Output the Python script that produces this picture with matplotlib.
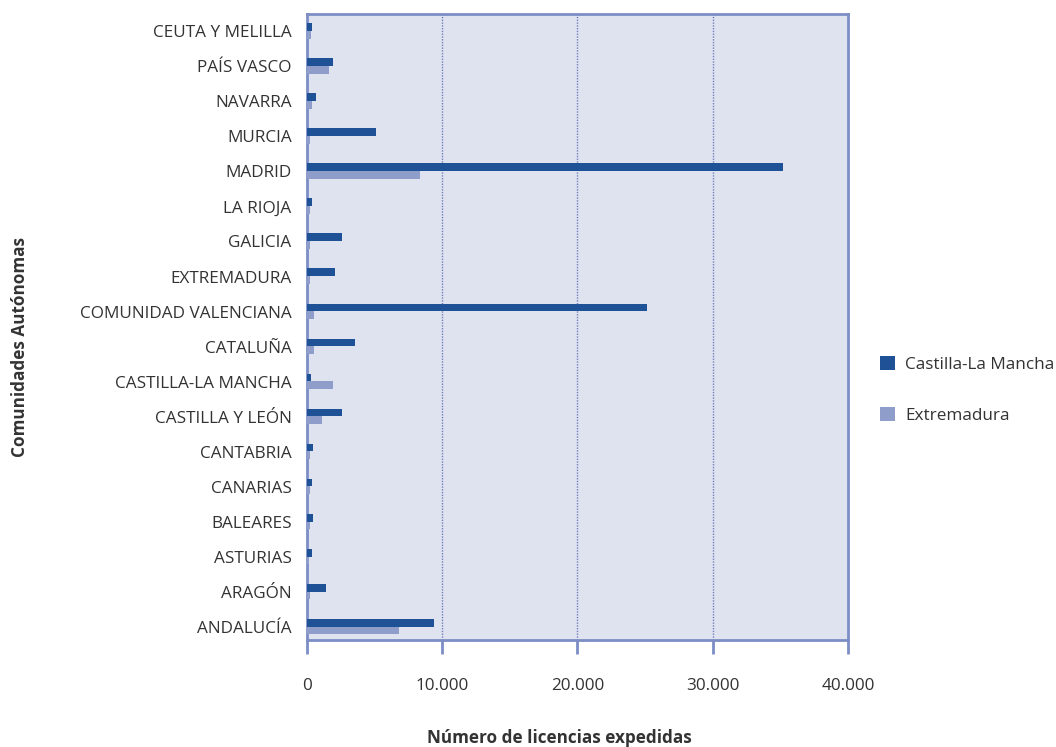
import numpy as np
import matplotlib
matplotlib.use("Agg")
import matplotlib.pyplot as plt
from matplotlib.ticker import FuncFormatter

plt.rcParams['font.family'] = ['Open Sans', 'DejaVu Sans']

comunidades = ['ANDALUCÍA', 'ARAGÓN', 'ASTURIAS', 'BALEARES', 'CANARIAS', 'CANTABRIA',
               'CASTILLA Y LEÓN', 'CASTILLA-LA MANCHA', 'CATALUÑA', 'COMUNIDAD VALENCIANA',
               'EXTREMADURA', 'GALICIA', 'LA RIOJA', 'MADRID', 'MURCIA', 'NAVARRA',
               'PAÍS VASCO', 'CEUTA Y MELILLA']
castilla_la_mancha = [9400, 1430, 350, 450, 350, 450, 2610, 300, 3530, 25150,
                      2070, 2610, 350, 35200, 5080, 690, 1900, 350]
extremadura = [6780, 250, 150, 250, 250, 250, 1130, 1900, 520, 520,
               250, 250, 250, 8380, 250, 350, 1600, 300]

dark = '#1f5196'
light = '#8f9dca'
spine = '#7d8ec6'
txt = '#333333'
fs = 12.3

fig = plt.figure(figsize=(10.56, 7.47), dpi=100)
ax = fig.add_axes([0.2907, 0.1432, 0.5123, 0.8381])
ax.set_facecolor('#dfe3ef')

y = np.arange(len(comunidades))
h = 0.22
ax.barh(y + h / 2 + 0.01, castilla_la_mancha, height=h, color=dark, label='Castilla-La Mancha', zorder=3)
ax.barh(y - h / 2 + 0.01, extremadura, height=h, color=light, label='Extremadura', zorder=3)

ax.set_xlim(0, 40000)
ax.set_ylim(-0.37, 17.49)
ax.set_xticks([0, 10000, 20000, 30000, 40000])
ax.xaxis.set_major_formatter(FuncFormatter(lambda v, p: '0' if v == 0 else '{:,.0f}'.format(v).replace(',', '.')))
ax.set_yticks(y)
ax.set_yticklabels(comunidades)

for v in [10000, 20000, 30000]:
    ax.axvline(v, color='#6f7fc0', linestyle=(0, (1, 1)), linewidth=1, zorder=1)

for s in ax.spines.values():
    s.set_color(spine)
    s.set_linewidth(2)

ax.tick_params(axis='x', direction='out', length=10, width=2, color=spine, pad=17,
               labelsize=fs, labelcolor=txt)
ax.tick_params(axis='y', length=0, pad=11, labelsize=fs, labelcolor=txt)

fig.text(0.53, 0.012, 'Número de licencias expedidas', fontsize=fs, fontweight='bold',
         color=txt, ha='center', va='center')
fig.text(0.019, 0.535, 'Comunidades Autónomas', rotation=90, fontsize=fs, fontweight='bold',
         color=txt, ha='center', va='center')

ax.legend(loc='center left', bbox_to_anchor=(1.03, 0.40), frameon=False, fontsize=fs,
          handlelength=0.9, handleheight=0.9, labelspacing=2.0, handletextpad=0.6,
          labelcolor=txt)

fig.savefig('out.png', dpi=100, facecolor='white')
